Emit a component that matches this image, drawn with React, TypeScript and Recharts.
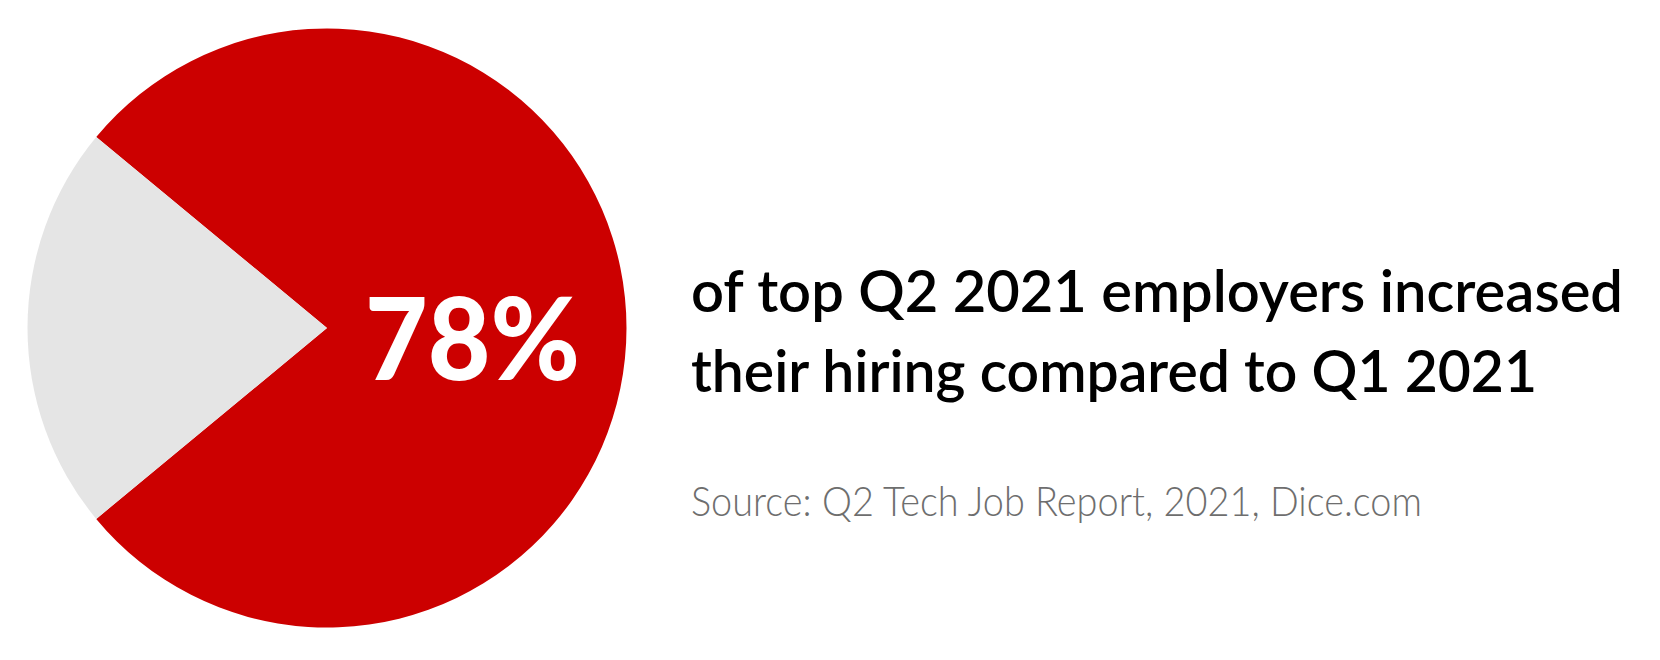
import React from "react";
import { PieChart, Pie, Cell } from "recharts";

const categories = ["Increased hiring", "Did not increase"];
const shares = [78, 22];
const colors = ["#CC0000", "#E5E5E5"];
const headline = "78%";
const captionLines = [
  "of top Q2 2021 employers increased",
  "their hiring compared to Q1 2021",
];
const sourceText = "Source: Q2 Tech Job Report, 2021, Dice.com";

const data = categories.map((name, i) => ({ name, value: shares[i] }));
const otherShare = shares[1] / (shares[0] + shares[1]);
const startAngle = 180 + (otherShare * 360) / 2;

const W = 1660;
const H = 660;

export default function App() {
  return (
    <div style={{ position: "relative", width: W, height: H }}>
      <PieChart width={W} height={H} margin={{ top: 0, right: 0, bottom: 0, left: 0 }}>
        <Pie
          data={data}
          dataKey="value"
          nameKey="name"
          cx={319}
          cy={320}
          innerRadius={0}
          outerRadius={299.5}
          startAngle={startAngle}
          endAngle={startAngle + 360}
          stroke="none"
          isAnimationActive={false}
        >
          {data.map((d, i) => (
            <Cell key={d.name} fill={colors[i]} stroke="none" />
          ))}
        </Pie>
      </PieChart>
      <svg
        width={W}
        height={H}
        style={{ position: "absolute", left: 0, top: 0, pointerEvents: "none" }}
      >
        <text
          x={357}
          y={372}
          fill="#FFFFFF"
          fontFamily="Lato"
          fontWeight={900}
          fontSize={114}
          textLength={215}
          lengthAdjust="spacingAndGlyphs"
        >
          {headline}
        </text>
        <text
          x={683}
          y={303.7}
          fill="#000000"
          fontFamily="Lato"
          fontWeight={600}
          fontSize={57}
          textLength={932}
          lengthAdjust="spacingAndGlyphs"
        >
          {captionLines[0]}
        </text>
        <text
          x={683}
          y={383.7}
          fill="#000000"
          fontFamily="Lato"
          fontWeight={600}
          fontSize={57}
          textLength={846}
          lengthAdjust="spacingAndGlyphs"
        >
          {captionLines[1]}
        </text>
        <text
          x={683}
          y={507.5}
          fill="#6E6E6E"
          fontFamily="Lato"
          fontWeight={300}
          fontSize={42}
          textLength={731}
          lengthAdjust="spacingAndGlyphs"
        >
          {sourceText}
        </text>
      </svg>
    </div>
  );
}
